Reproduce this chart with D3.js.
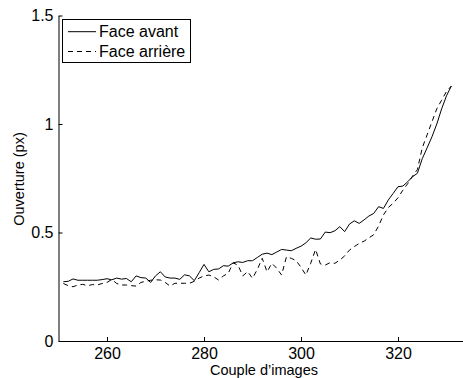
<!DOCTYPE html>
<html><head><meta charset="utf-8">
<script src="https://cdn.jsdelivr.net/npm/d3@7"></script>
<style>body{margin:0;background:#fff}svg{display:block}text{font-family:"Liberation Sans",Arial,Helvetica,sans-serif;fill:#000}</style>
</head><body>
<svg id="c" width="463" height="378"></svg>
<script>
const xStart = 251;
const faceAvant = [0.273,0.275,0.286,0.28,0.28,0.28,0.28,0.28,0.283,0.287,0.282,0.29,0.285,0.288,0.273,0.30,0.292,0.29,0.27,0.30,
0.319,0.295,0.29,0.29,0.284,0.305,0.30,0.278,0.315,0.353,0.319,0.33,0.332,0.347,0.345,0.36,0.365,0.362,0.37,0.37,
0.385,0.40,0.405,0.398,0.41,0.422,0.419,0.416,0.427,0.437,0.452,0.475,0.469,0.47,0.502,0.499,0.508,0.527,0.504,0.539,
0.554,0.542,0.558,0.576,0.588,0.619,0.611,0.65,0.68,0.711,0.714,0.734,0.757,0.773,0.84,0.89,0.941,1.0,1.07,1.13,1.175];
const faceArriere = [0.265,0.255,0.25,0.258,0.261,0.255,0.26,0.258,0.265,0.27,0.284,0.265,0.258,0.258,0.255,0.253,0.27,0.275,0.28,0.282,
0.281,0.27,0.253,0.266,0.266,0.266,0.266,0.275,0.29,0.30,0.304,0.296,0.281,0.30,0.312,0.36,0.35,0.30,0.32,0.289,
0.33,0.381,0.319,0.358,0.335,0.304,0.388,0.381,0.37,0.34,0.304,0.358,0.422,0.355,0.35,0.361,0.358,0.373,0.392,0.419,
0.435,0.45,0.46,0.475,0.49,0.53,0.581,0.615,0.635,0.66,0.695,0.725,0.76,0.79,0.89,0.95,1.01,1.07,1.11,1.15,1.175];
const xTicks = [260,280,300,320];
const yTicks = [0,0.5,1,1.5];
const yTickLabels = ["0","0.5","1","1.5"];
const seriesNames = ["Face avant","Face arrière"];
const xLabel = "Couple d\u2019images";
const yLabel = "Ouverture (px)";

const svg = d3.select("#c");
const x = d3.scaleLinear().domain([250,334]).range([58.5,465.9]);
const y = d3.scaleLinear().domain([0,1.5]).range([341,15.5]);

const line = d3.line().x((d,i)=>x(xStart+i)).y(d=>y(d));

// x axis
const gx = svg.append("g").attr("transform","translate(0,341)")
  .call(d3.axisBottom(x).tickValues(xTicks).tickSizeInner(-4).tickSizeOuter(0).tickPadding(7).tickFormat(d3.format("d")));
gx.select(".domain").attr("stroke","#000");
gx.selectAll("text").attr("font-size","16px").attr("font-family","Liberation Sans, Arial, sans-serif").attr("fill","#000");
// y axis
const gy = svg.append("g").attr("transform","translate(58.5,0)")
  .call(d3.axisLeft(y).tickValues(yTicks).tickSizeInner(-4).tickSizeOuter(0).tickPadding(5).tickFormat((d,i)=>yTickLabels[i]));
gy.select(".domain").attr("stroke","#000");
gy.selectAll("text").attr("font-size","16px").attr("font-family","Liberation Sans, Arial, sans-serif").attr("fill","#000");

// series
svg.append("path").datum(faceAvant).attr("d",line).attr("fill","none").attr("stroke","#000").attr("stroke-width",1);
svg.append("path").datum(faceArriere).attr("d",line).attr("fill","none").attr("stroke","#000").attr("stroke-width",1).attr("stroke-dasharray","5,4");

// labels
svg.append("text").attr("x",264).attr("y",375).attr("text-anchor","middle").attr("font-size","14.5px").text(xLabel);
svg.append("text").attr("transform","translate(24,179) rotate(-90)").attr("text-anchor","middle").attr("font-size","14.5px").text(yLabel);

// legend
const lg = svg.append("g");
lg.append("rect").attr("x",62.5).attr("y",19.5).attr("width",128).attr("height",43).attr("fill","#fff").attr("stroke","#000");
const rows = [{name:seriesNames[0],dash:null,y:31.7},{name:seriesNames[1],dash:"5,4",y:51.5}];
rows.forEach(r=>{
  lg.append("line").attr("x1",68).attr("x2",96).attr("y1",r.y).attr("y2",r.y).attr("stroke","#000").attr("stroke-dasharray",r.dash);
  lg.append("text").attr("x",99).attr("y",r.y+5.7).attr("font-size","16px").text(r.name);
});
</script>
</body></html>
